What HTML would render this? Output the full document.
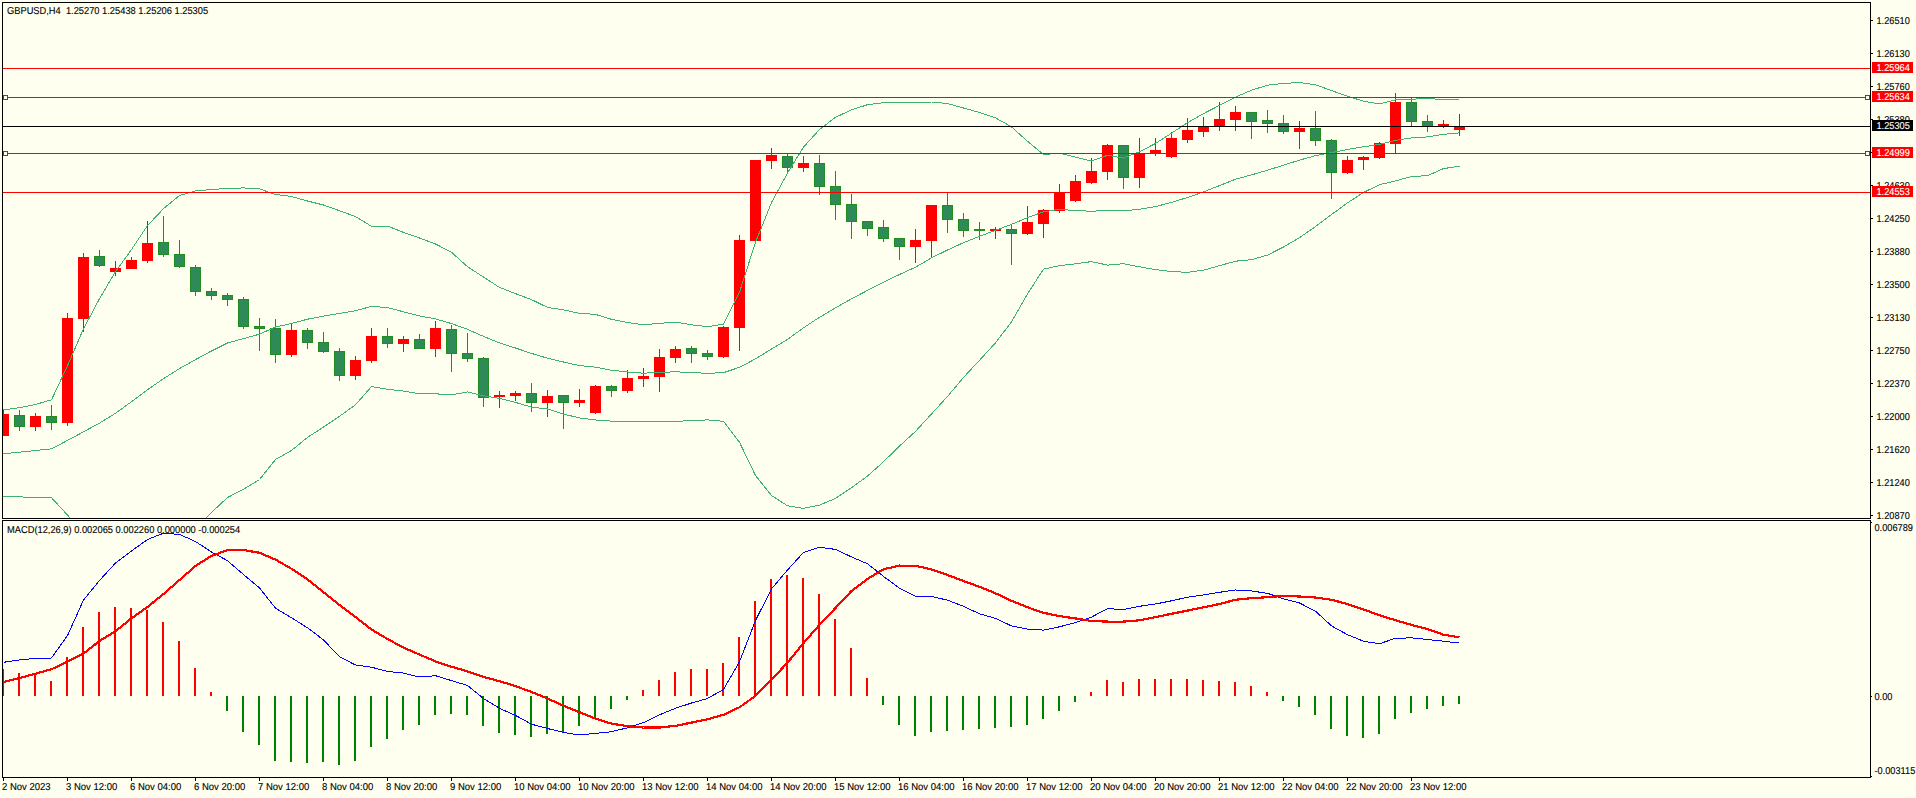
<!DOCTYPE html>
<html><head><meta charset="utf-8"><style>
html,body{margin:0;padding:0;background:#FFFFF0;width:1916px;height:798px;overflow:hidden}
svg{display:block}
text{font-family:"Liberation Sans", sans-serif;font-size:10px;text-rendering:geometricPrecision}
</style></head><body>
<svg width="1916" height="798" viewBox="0 0 1916 798" shape-rendering="crispEdges">
<rect x="0" y="0" width="1916" height="798" fill="#FFFFF0"/>

<defs><clipPath id="cm"><rect x="3" y="3" width="1867" height="515"/></clipPath><clipPath id="cd"><rect x="3" y="521" width="1867" height="256"/></clipPath></defs>
<g clip-path="url(#cm)">
<rect x="3" y="409" width="1" height="27" fill="#FF0000"/>
<rect x="-2" y="414" width="11" height="22" fill="#FF0000"/>
<rect x="19" y="410" width="1" height="21" fill="#228B22"/>
<rect x="14" y="415" width="11" height="12" fill="#228B22"/>
<rect x="15" y="416" width="9" height="10" fill="#2E8B57"/>
<rect x="35" y="413" width="1" height="18" fill="#FF0000"/>
<rect x="30" y="416" width="11" height="11" fill="#FF0000"/>
<rect x="51" y="405" width="1" height="25" fill="#228B22"/>
<rect x="46" y="416" width="11" height="7" fill="#228B22"/>
<rect x="47" y="417" width="9" height="5" fill="#2E8B57"/>
<rect x="67" y="313" width="1" height="113" fill="#FF0000"/>
<rect x="62" y="318" width="11" height="105" fill="#FF0000"/>
<rect x="83" y="253" width="1" height="79" fill="#FF0000"/>
<rect x="78" y="257" width="11" height="62" fill="#FF0000"/>
<rect x="99" y="250" width="1" height="17" fill="#228B22"/>
<rect x="94" y="256" width="11" height="10" fill="#228B22"/>
<rect x="95" y="257" width="9" height="8" fill="#2E8B57"/>
<rect x="115" y="261" width="1" height="15" fill="#FF0000"/>
<rect x="110" y="268" width="11" height="4" fill="#FF0000"/>
<rect x="131" y="257" width="1" height="12" fill="#FF0000"/>
<rect x="126" y="260" width="11" height="9" fill="#FF0000"/>
<rect x="147" y="221" width="1" height="42" fill="#FF0000"/>
<rect x="142" y="243" width="11" height="18" fill="#FF0000"/>
<rect x="163" y="216" width="1" height="41" fill="#228B22"/>
<rect x="158" y="242" width="11" height="13" fill="#228B22"/>
<rect x="159" y="243" width="9" height="11" fill="#2E8B57"/>
<rect x="179" y="240" width="1" height="28" fill="#228B22"/>
<rect x="174" y="254" width="11" height="13" fill="#228B22"/>
<rect x="175" y="255" width="9" height="11" fill="#2E8B57"/>
<rect x="195" y="265" width="1" height="31" fill="#228B22"/>
<rect x="190" y="267" width="11" height="25" fill="#228B22"/>
<rect x="191" y="268" width="9" height="23" fill="#2E8B57"/>
<rect x="211" y="288" width="1" height="12" fill="#228B22"/>
<rect x="206" y="291" width="11" height="5" fill="#228B22"/>
<rect x="207" y="292" width="9" height="3" fill="#2E8B57"/>
<rect x="227" y="293" width="1" height="13" fill="#228B22"/>
<rect x="222" y="295" width="11" height="5" fill="#228B22"/>
<rect x="223" y="296" width="9" height="3" fill="#2E8B57"/>
<rect x="243" y="297" width="1" height="32" fill="#228B22"/>
<rect x="238" y="299" width="11" height="28" fill="#228B22"/>
<rect x="239" y="300" width="9" height="26" fill="#2E8B57"/>
<rect x="259" y="318" width="1" height="33" fill="#228B22"/>
<rect x="254" y="326" width="11" height="3" fill="#228B22"/>
<rect x="255" y="327" width="9" height="1" fill="#2E8B57"/>
<rect x="275" y="319" width="1" height="44" fill="#228B22"/>
<rect x="270" y="328" width="11" height="27" fill="#228B22"/>
<rect x="271" y="329" width="9" height="25" fill="#2E8B57"/>
<rect x="291" y="324" width="1" height="33" fill="#FF0000"/>
<rect x="286" y="330" width="11" height="25" fill="#FF0000"/>
<rect x="307" y="328" width="1" height="21" fill="#228B22"/>
<rect x="302" y="330" width="11" height="13" fill="#228B22"/>
<rect x="303" y="331" width="9" height="11" fill="#2E8B57"/>
<rect x="323" y="332" width="1" height="21" fill="#228B22"/>
<rect x="318" y="342" width="11" height="10" fill="#228B22"/>
<rect x="319" y="343" width="9" height="8" fill="#2E8B57"/>
<rect x="339" y="348" width="1" height="33" fill="#228B22"/>
<rect x="334" y="351" width="11" height="25" fill="#228B22"/>
<rect x="335" y="352" width="9" height="23" fill="#2E8B57"/>
<rect x="355" y="356" width="1" height="24" fill="#FF0000"/>
<rect x="350" y="360" width="11" height="16" fill="#FF0000"/>
<rect x="371" y="328" width="1" height="35" fill="#FF0000"/>
<rect x="366" y="336" width="11" height="25" fill="#FF0000"/>
<rect x="387" y="328" width="1" height="20" fill="#228B22"/>
<rect x="382" y="336" width="11" height="8" fill="#228B22"/>
<rect x="383" y="337" width="9" height="6" fill="#2E8B57"/>
<rect x="403" y="336" width="1" height="16" fill="#FF0000"/>
<rect x="398" y="339" width="11" height="5" fill="#FF0000"/>
<rect x="419" y="334" width="1" height="15" fill="#228B22"/>
<rect x="414" y="339" width="11" height="10" fill="#228B22"/>
<rect x="415" y="340" width="9" height="8" fill="#2E8B57"/>
<rect x="435" y="321" width="1" height="36" fill="#FF0000"/>
<rect x="430" y="328" width="11" height="21" fill="#FF0000"/>
<rect x="451" y="325" width="1" height="47" fill="#228B22"/>
<rect x="446" y="329" width="11" height="25" fill="#228B22"/>
<rect x="447" y="330" width="9" height="23" fill="#2E8B57"/>
<rect x="467" y="333" width="1" height="29" fill="#228B22"/>
<rect x="462" y="353" width="11" height="6" fill="#228B22"/>
<rect x="463" y="354" width="9" height="4" fill="#2E8B57"/>
<rect x="483" y="357" width="1" height="50" fill="#228B22"/>
<rect x="478" y="358" width="11" height="40" fill="#228B22"/>
<rect x="479" y="359" width="9" height="38" fill="#2E8B57"/>
<rect x="499" y="391" width="1" height="17" fill="#FF0000"/>
<rect x="494" y="395" width="11" height="2" fill="#FF0000"/>
<rect x="515" y="391" width="1" height="10" fill="#FF0000"/>
<rect x="510" y="393" width="11" height="3" fill="#FF0000"/>
<rect x="531" y="383" width="1" height="29" fill="#228B22"/>
<rect x="526" y="393" width="11" height="10" fill="#228B22"/>
<rect x="527" y="394" width="9" height="8" fill="#2E8B57"/>
<rect x="547" y="390" width="1" height="27" fill="#FF0000"/>
<rect x="542" y="396" width="11" height="7" fill="#FF0000"/>
<rect x="563" y="395" width="1" height="34" fill="#228B22"/>
<rect x="558" y="395" width="11" height="8" fill="#228B22"/>
<rect x="559" y="396" width="9" height="6" fill="#2E8B57"/>
<rect x="579" y="389" width="1" height="18" fill="#FF0000"/>
<rect x="574" y="400" width="11" height="3" fill="#FF0000"/>
<rect x="595" y="385" width="1" height="29" fill="#FF0000"/>
<rect x="590" y="386" width="11" height="27" fill="#FF0000"/>
<rect x="611" y="385" width="1" height="12" fill="#228B22"/>
<rect x="606" y="386" width="11" height="5" fill="#228B22"/>
<rect x="607" y="387" width="9" height="3" fill="#2E8B57"/>
<rect x="627" y="370" width="1" height="23" fill="#FF0000"/>
<rect x="622" y="378" width="11" height="13" fill="#FF0000"/>
<rect x="643" y="368" width="1" height="19" fill="#FF0000"/>
<rect x="638" y="376" width="11" height="3" fill="#FF0000"/>
<rect x="659" y="349" width="1" height="43" fill="#FF0000"/>
<rect x="654" y="357" width="11" height="20" fill="#FF0000"/>
<rect x="675" y="346" width="1" height="17" fill="#FF0000"/>
<rect x="670" y="349" width="11" height="9" fill="#FF0000"/>
<rect x="691" y="346" width="1" height="17" fill="#228B22"/>
<rect x="686" y="348" width="11" height="6" fill="#228B22"/>
<rect x="687" y="349" width="9" height="4" fill="#2E8B57"/>
<rect x="707" y="350" width="1" height="10" fill="#228B22"/>
<rect x="702" y="353" width="11" height="4" fill="#228B22"/>
<rect x="703" y="354" width="9" height="2" fill="#2E8B57"/>
<rect x="723" y="326" width="1" height="32" fill="#FF0000"/>
<rect x="718" y="327" width="11" height="30" fill="#FF0000"/>
<rect x="739" y="235" width="1" height="116" fill="#FF0000"/>
<rect x="734" y="240" width="11" height="88" fill="#FF0000"/>
<rect x="755" y="160" width="1" height="81" fill="#FF0000"/>
<rect x="750" y="160" width="11" height="81" fill="#FF0000"/>
<rect x="771" y="148" width="1" height="21" fill="#FF0000"/>
<rect x="766" y="155" width="11" height="6" fill="#FF0000"/>
<rect x="787" y="153" width="1" height="19" fill="#228B22"/>
<rect x="782" y="156" width="11" height="12" fill="#228B22"/>
<rect x="783" y="157" width="9" height="10" fill="#2E8B57"/>
<rect x="803" y="156" width="1" height="16" fill="#FF0000"/>
<rect x="798" y="163" width="11" height="5" fill="#FF0000"/>
<rect x="819" y="155" width="1" height="40" fill="#228B22"/>
<rect x="814" y="163" width="11" height="24" fill="#228B22"/>
<rect x="815" y="164" width="9" height="22" fill="#2E8B57"/>
<rect x="835" y="171" width="1" height="49" fill="#228B22"/>
<rect x="830" y="186" width="11" height="19" fill="#228B22"/>
<rect x="831" y="187" width="9" height="17" fill="#2E8B57"/>
<rect x="851" y="194" width="1" height="45" fill="#228B22"/>
<rect x="846" y="204" width="11" height="18" fill="#228B22"/>
<rect x="847" y="205" width="9" height="16" fill="#2E8B57"/>
<rect x="867" y="221" width="1" height="15" fill="#228B22"/>
<rect x="862" y="221" width="11" height="8" fill="#228B22"/>
<rect x="863" y="222" width="9" height="6" fill="#2E8B57"/>
<rect x="883" y="220" width="1" height="22" fill="#228B22"/>
<rect x="878" y="227" width="11" height="12" fill="#228B22"/>
<rect x="879" y="228" width="9" height="10" fill="#2E8B57"/>
<rect x="899" y="238" width="1" height="22" fill="#228B22"/>
<rect x="894" y="238" width="11" height="9" fill="#228B22"/>
<rect x="895" y="239" width="9" height="7" fill="#2E8B57"/>
<rect x="915" y="229" width="1" height="34" fill="#FF0000"/>
<rect x="910" y="240" width="11" height="7" fill="#FF0000"/>
<rect x="931" y="205" width="1" height="52" fill="#FF0000"/>
<rect x="926" y="205" width="11" height="36" fill="#FF0000"/>
<rect x="947" y="193" width="1" height="40" fill="#228B22"/>
<rect x="942" y="205" width="11" height="15" fill="#228B22"/>
<rect x="943" y="206" width="9" height="13" fill="#2E8B57"/>
<rect x="963" y="213" width="1" height="24" fill="#228B22"/>
<rect x="958" y="219" width="11" height="12" fill="#228B22"/>
<rect x="959" y="220" width="9" height="10" fill="#2E8B57"/>
<rect x="979" y="222" width="1" height="18" fill="#228B22"/>
<rect x="974" y="229" width="11" height="2" fill="#228B22"/>
<rect x="995" y="227" width="1" height="12" fill="#FF0000"/>
<rect x="990" y="229" width="11" height="2" fill="#FF0000"/>
<rect x="1011" y="225" width="1" height="40" fill="#228B22"/>
<rect x="1006" y="229" width="11" height="5" fill="#228B22"/>
<rect x="1007" y="230" width="9" height="3" fill="#2E8B57"/>
<rect x="1027" y="206" width="1" height="29" fill="#FF0000"/>
<rect x="1022" y="222" width="11" height="12" fill="#FF0000"/>
<rect x="1043" y="209" width="1" height="29" fill="#FF0000"/>
<rect x="1038" y="210" width="11" height="14" fill="#FF0000"/>
<rect x="1059" y="184" width="1" height="29" fill="#FF0000"/>
<rect x="1054" y="193" width="11" height="18" fill="#FF0000"/>
<rect x="1075" y="175" width="1" height="27" fill="#FF0000"/>
<rect x="1070" y="181" width="11" height="20" fill="#FF0000"/>
<rect x="1091" y="158" width="1" height="26" fill="#FF0000"/>
<rect x="1086" y="171" width="11" height="12" fill="#FF0000"/>
<rect x="1107" y="144" width="1" height="36" fill="#FF0000"/>
<rect x="1102" y="145" width="11" height="27" fill="#FF0000"/>
<rect x="1123" y="145" width="1" height="44" fill="#228B22"/>
<rect x="1118" y="145" width="11" height="33" fill="#228B22"/>
<rect x="1119" y="146" width="9" height="31" fill="#2E8B57"/>
<rect x="1139" y="138" width="1" height="50" fill="#FF0000"/>
<rect x="1134" y="153" width="11" height="25" fill="#FF0000"/>
<rect x="1155" y="138" width="1" height="18" fill="#FF0000"/>
<rect x="1150" y="150" width="11" height="3" fill="#FF0000"/>
<rect x="1171" y="132" width="1" height="26" fill="#FF0000"/>
<rect x="1166" y="138" width="11" height="19" fill="#FF0000"/>
<rect x="1187" y="118" width="1" height="25" fill="#FF0000"/>
<rect x="1182" y="130" width="11" height="10" fill="#FF0000"/>
<rect x="1203" y="117" width="1" height="20" fill="#FF0000"/>
<rect x="1198" y="126" width="11" height="6" fill="#FF0000"/>
<rect x="1219" y="102" width="1" height="29" fill="#FF0000"/>
<rect x="1214" y="119" width="11" height="8" fill="#FF0000"/>
<rect x="1235" y="106" width="1" height="25" fill="#FF0000"/>
<rect x="1230" y="112" width="11" height="8" fill="#FF0000"/>
<rect x="1251" y="112" width="1" height="27" fill="#228B22"/>
<rect x="1246" y="112" width="11" height="10" fill="#228B22"/>
<rect x="1247" y="113" width="9" height="8" fill="#2E8B57"/>
<rect x="1267" y="110" width="1" height="23" fill="#228B22"/>
<rect x="1262" y="120" width="11" height="4" fill="#228B22"/>
<rect x="1263" y="121" width="9" height="2" fill="#2E8B57"/>
<rect x="1283" y="115" width="1" height="19" fill="#228B22"/>
<rect x="1278" y="123" width="11" height="9" fill="#228B22"/>
<rect x="1279" y="124" width="9" height="7" fill="#2E8B57"/>
<rect x="1299" y="121" width="1" height="28" fill="#FF0000"/>
<rect x="1294" y="128" width="11" height="4" fill="#FF0000"/>
<rect x="1315" y="111" width="1" height="35" fill="#228B22"/>
<rect x="1310" y="128" width="11" height="13" fill="#228B22"/>
<rect x="1311" y="129" width="9" height="11" fill="#2E8B57"/>
<rect x="1331" y="139" width="1" height="60" fill="#228B22"/>
<rect x="1326" y="140" width="11" height="33" fill="#228B22"/>
<rect x="1327" y="141" width="9" height="31" fill="#2E8B57"/>
<rect x="1347" y="156" width="1" height="18" fill="#FF0000"/>
<rect x="1342" y="160" width="11" height="13" fill="#FF0000"/>
<rect x="1363" y="156" width="1" height="14" fill="#FF0000"/>
<rect x="1358" y="157" width="11" height="3" fill="#FF0000"/>
<rect x="1379" y="142" width="1" height="17" fill="#FF0000"/>
<rect x="1374" y="143" width="11" height="15" fill="#FF0000"/>
<rect x="1395" y="93" width="1" height="61" fill="#FF0000"/>
<rect x="1390" y="102" width="11" height="42" fill="#FF0000"/>
<rect x="1411" y="98" width="1" height="29" fill="#228B22"/>
<rect x="1406" y="102" width="11" height="20" fill="#228B22"/>
<rect x="1407" y="103" width="9" height="18" fill="#2E8B57"/>
<rect x="1427" y="115" width="1" height="17" fill="#228B22"/>
<rect x="1422" y="121" width="11" height="6" fill="#228B22"/>
<rect x="1423" y="122" width="9" height="4" fill="#2E8B57"/>
<rect x="1443" y="120" width="1" height="8" fill="#FF0000"/>
<rect x="1438" y="124" width="11" height="3" fill="#FF0000"/>
<rect x="1459" y="114" width="1" height="22" fill="#FF0000"/>
<rect x="1454" y="126" width="11" height="4" fill="#FF0000"/>
<polyline points="3.5,409.9 19.5,407.7 35.5,404.5 51.5,399.8 67.5,365.8 83.5,328.8 99.5,298.7 115.5,271.7 131.5,249.6 147.5,225.6 163.5,208.6 179.5,195.5 195.5,190.9 211.5,189.5 227.5,188.5 243.5,187.9 259.5,188.9 275.5,194.5 291.5,196.5 307.5,201.0 323.5,205.0 339.5,210.7 355.5,216.6 371.5,226.3 387.5,226.0 403.5,232.4 419.5,238.0 435.5,244.0 451.5,252.2 467.5,266.7 483.5,277.1 499.5,287.4 515.5,293.6 531.5,299.6 547.5,307.4 563.5,309.9 579.5,313.3 595.5,314.4 611.5,319.3 627.5,322.6 643.5,324.7 659.5,323.4 675.5,322.1 691.5,324.8 707.5,326.7 723.5,324.1 739.5,292.3 755.5,242.3 771.5,202.5 787.5,173.1 803.5,147.1 819.5,129.5 835.5,117.3 851.5,109.9 867.5,104.7 883.5,102.7 899.5,102.9 915.5,103.0 931.5,102.0 947.5,103.5 963.5,108.0 979.5,112.4 995.5,117.8 1011.5,126.9 1027.5,141.3 1043.5,154.5 1059.5,153.2 1075.5,157.2 1091.5,161.0 1107.5,155.3 1123.5,158.1 1139.5,151.7 1155.5,143.5 1171.5,133.2 1187.5,122.7 1203.5,113.6 1219.5,105.4 1235.5,97.1 1251.5,90.2 1267.5,85.2 1283.5,83.4 1299.5,82.6 1315.5,84.7 1331.5,90.6 1347.5,96.2 1363.5,101.2 1379.5,104.0 1395.5,99.9 1411.5,99.3 1427.5,98.2 1443.5,100.0 1459.5,99.7" fill="none" stroke="#3CB371" stroke-width="1" shape-rendering="crispEdges" stroke-linejoin="round"/>
<polyline points="3.5,453.8 19.5,452.2 35.5,450.5 51.5,448.9 67.5,440.4 83.5,431.8 99.5,423.1 115.5,413.3 131.5,401.7 147.5,389.7 163.5,378.7 179.5,368.6 195.5,359.6 211.5,351.0 227.5,343.0 243.5,338.6 259.5,334.2 275.5,327.0 291.5,323.5 307.5,319.2 323.5,316.1 339.5,313.5 355.5,310.7 371.5,306.4 387.5,307.6 403.5,311.8 419.5,315.9 435.5,318.9 451.5,323.6 467.5,329.3 483.5,336.4 499.5,342.9 515.5,348.0 531.5,353.4 547.5,358.2 563.5,362.0 579.5,365.6 595.5,367.2 611.5,370.2 627.5,372.0 643.5,373.2 659.5,372.4 675.5,371.8 691.5,372.6 707.5,373.3 723.5,372.7 739.5,367.3 755.5,358.9 771.5,349.0 787.5,339.4 803.5,327.8 819.5,317.3 835.5,307.9 851.5,298.8 867.5,290.4 883.5,282.2 899.5,274.5 915.5,267.2 931.5,257.9 947.5,250.0 963.5,242.7 979.5,236.3 995.5,230.3 1011.5,224.3 1027.5,217.7 1043.5,211.8 1059.5,209.4 1075.5,210.5 1091.5,211.3 1107.5,210.2 1123.5,210.9 1139.5,209.2 1155.5,206.6 1171.5,202.4 1187.5,197.5 1203.5,191.9 1219.5,185.6 1235.5,179.2 1251.5,174.9 1267.5,170.2 1283.5,165.2 1299.5,160.1 1315.5,155.7 1331.5,152.6 1347.5,149.5 1363.5,146.8 1379.5,144.3 1395.5,140.4 1411.5,137.9 1427.5,136.9 1443.5,134.3 1459.5,132.9" fill="none" stroke="#3CB371" stroke-width="1" shape-rendering="crispEdges" stroke-linejoin="round"/>
<polyline points="3.5,496.6 19.5,496.9 35.5,497.4 51.5,497.7 67.5,515.0 83.5,534.8 99.5,547.5 115.5,554.9 131.5,553.8 147.5,553.8 163.5,548.8 179.5,541.7 195.5,528.3 211.5,512.5 227.5,497.5 243.5,489.3 259.5,479.5 275.5,459.5 291.5,450.5 307.5,437.4 323.5,427.1 339.5,416.3 355.5,404.8 371.5,386.5 387.5,389.3 403.5,391.1 419.5,393.8 435.5,393.8 451.5,394.9 467.5,391.9 483.5,395.8 499.5,398.4 515.5,402.4 531.5,407.1 547.5,409.0 563.5,414.1 579.5,417.9 595.5,420.0 611.5,421.1 627.5,421.4 643.5,421.8 659.5,421.3 675.5,421.5 691.5,420.5 707.5,419.9 723.5,421.3 739.5,442.3 755.5,475.5 771.5,495.5 787.5,505.8 803.5,508.4 819.5,505.1 835.5,498.4 851.5,487.7 867.5,476.1 883.5,461.7 899.5,446.1 915.5,431.4 931.5,413.9 947.5,396.5 963.5,377.4 979.5,360.3 995.5,342.9 1011.5,321.8 1027.5,294.0 1043.5,269.1 1059.5,265.7 1075.5,263.8 1091.5,261.6 1107.5,265.1 1123.5,263.7 1139.5,266.8 1155.5,269.6 1171.5,271.6 1187.5,272.3 1203.5,270.2 1219.5,265.7 1235.5,261.2 1251.5,259.7 1267.5,255.1 1283.5,247.0 1299.5,237.6 1315.5,226.6 1331.5,214.6 1347.5,202.8 1363.5,192.5 1379.5,184.7 1395.5,180.9 1411.5,176.5 1427.5,175.7 1443.5,168.6 1459.5,166.2" fill="none" stroke="#3CB371" stroke-width="1" shape-rendering="crispEdges" stroke-linejoin="round"/>
<rect x="3" y="68" width="1867" height="1" fill="#FF0000"/>
<rect x="3" y="97" width="1867" height="1" fill="#FF0000"/>
<rect x="3" y="126" width="1867" height="1" fill="#000000"/>
<rect x="3" y="153" width="1867" height="1" fill="#FF0000"/>
<rect x="3" y="192" width="1867" height="1" fill="#FF0000"/>
<rect x="3.5" y="95.5" width="4" height="4" fill="#FFFFF0" stroke="#FF0000" stroke-width="1"/>
<rect x="1865.5" y="95.5" width="4" height="4" fill="#FFFFF0" stroke="#FF0000" stroke-width="1"/>
<rect x="3.5" y="151.5" width="4" height="4" fill="#FFFFF0" stroke="#FF0000" stroke-width="1"/>
<rect x="1865.5" y="151.5" width="4" height="4" fill="#FFFFF0" stroke="#FF0000" stroke-width="1"/>
</g>
<text transform="translate(7,14) scale(0.93,1)" fill="#000" stroke="#000" stroke-width="0.12">GBPUSD,H4&#160; 1.25270 1.25438 1.25206 1.25305</text>
<rect x="2" y="2" width="1869" height="1" fill="#000"/>
<rect x="2" y="518" width="1869" height="1" fill="#000"/>
<rect x="2" y="2" width="1" height="517" fill="#000"/>
<rect x="1870" y="2" width="1" height="517" fill="#000"/>
<rect x="2" y="520" width="1869" height="1" fill="#000"/>
<rect x="2" y="777" width="1869" height="1" fill="#000"/>
<rect x="2" y="520" width="1" height="258" fill="#000"/>
<rect x="1870" y="520" width="1" height="258" fill="#000"/>
<rect x="1871" y="20" width="2" height="1" fill="#000"/>
<text transform="translate(1876.5,24) scale(0.92,1)" fill="#000" stroke="#000" stroke-width="0.12">1.26510</text>
<rect x="1871" y="53" width="2" height="1" fill="#000"/>
<text transform="translate(1876.5,57) scale(0.92,1)" fill="#000" stroke="#000" stroke-width="0.12">1.26130</text>
<rect x="1871" y="86" width="2" height="1" fill="#000"/>
<text transform="translate(1876.5,90) scale(0.92,1)" fill="#000" stroke="#000" stroke-width="0.12">1.25760</text>
<rect x="1871" y="119" width="2" height="1" fill="#000"/>
<text transform="translate(1876.5,123) scale(0.92,1)" fill="#000" stroke="#000" stroke-width="0.12">1.25380</text>
<rect x="1871" y="152" width="2" height="1" fill="#000"/>
<text transform="translate(1876.5,156) scale(0.92,1)" fill="#000" stroke="#000" stroke-width="0.12">1.25000</text>
<rect x="1871" y="185" width="2" height="1" fill="#000"/>
<text transform="translate(1876.5,189) scale(0.92,1)" fill="#000" stroke="#000" stroke-width="0.12">1.24630</text>
<rect x="1871" y="218" width="2" height="1" fill="#000"/>
<text transform="translate(1876.5,222) scale(0.92,1)" fill="#000" stroke="#000" stroke-width="0.12">1.24250</text>
<rect x="1871" y="251" width="2" height="1" fill="#000"/>
<text transform="translate(1876.5,255) scale(0.92,1)" fill="#000" stroke="#000" stroke-width="0.12">1.23880</text>
<rect x="1871" y="284" width="2" height="1" fill="#000"/>
<text transform="translate(1876.5,288) scale(0.92,1)" fill="#000" stroke="#000" stroke-width="0.12">1.23500</text>
<rect x="1871" y="317" width="2" height="1" fill="#000"/>
<text transform="translate(1876.5,321) scale(0.92,1)" fill="#000" stroke="#000" stroke-width="0.12">1.23130</text>
<rect x="1871" y="350" width="2" height="1" fill="#000"/>
<text transform="translate(1876.5,354) scale(0.92,1)" fill="#000" stroke="#000" stroke-width="0.12">1.22750</text>
<rect x="1871" y="383" width="2" height="1" fill="#000"/>
<text transform="translate(1876.5,387) scale(0.92,1)" fill="#000" stroke="#000" stroke-width="0.12">1.22370</text>
<rect x="1871" y="416" width="2" height="1" fill="#000"/>
<text transform="translate(1876.5,420) scale(0.92,1)" fill="#000" stroke="#000" stroke-width="0.12">1.22000</text>
<rect x="1871" y="449" width="2" height="1" fill="#000"/>
<text transform="translate(1876.5,453) scale(0.92,1)" fill="#000" stroke="#000" stroke-width="0.12">1.21620</text>
<rect x="1871" y="482" width="2" height="1" fill="#000"/>
<text transform="translate(1876.5,486) scale(0.92,1)" fill="#000" stroke="#000" stroke-width="0.12">1.21240</text>
<rect x="1871" y="515" width="2" height="1" fill="#000"/>
<text transform="translate(1876.5,519) scale(0.92,1)" fill="#000" stroke="#000" stroke-width="0.12">1.20870</text>
<rect x="1872" y="62" width="41" height="11" fill="#FF0000"/>
<text transform="translate(1876.5,71) scale(0.92,1)" fill="#FFF" stroke="#FFF" stroke-width="0.12">1.25964</text>
<rect x="1872" y="91" width="41" height="11" fill="#FF0000"/>
<text transform="translate(1876.5,100) scale(0.92,1)" fill="#FFF" stroke="#FFF" stroke-width="0.12">1.25634</text>
<rect x="1872" y="120" width="41" height="11" fill="#000000"/>
<text transform="translate(1876.5,129) scale(0.92,1)" fill="#FFF" stroke="#FFF" stroke-width="0.12">1.25305</text>
<rect x="1872" y="147" width="41" height="11" fill="#FF0000"/>
<text transform="translate(1876.5,156) scale(0.92,1)" fill="#FFF" stroke="#FFF" stroke-width="0.12">1.24999</text>
<rect x="1872" y="186" width="41" height="11" fill="#FF0000"/>
<text transform="translate(1876.5,195) scale(0.92,1)" fill="#FFF" stroke="#FFF" stroke-width="0.12">1.24553</text>
<g clip-path="url(#cd)">
<rect x="2" y="669" width="2" height="27" fill="#FF0000"/>
<rect x="18" y="673" width="2" height="23" fill="#FF0000"/>
<rect x="34" y="675" width="2" height="21" fill="#FF0000"/>
<rect x="50" y="681" width="2" height="15" fill="#FF0000"/>
<rect x="66" y="657" width="2" height="39" fill="#FF0000"/>
<rect x="82" y="627" width="2" height="69" fill="#FF0000"/>
<rect x="98" y="612" width="2" height="84" fill="#FF0000"/>
<rect x="114" y="607" width="2" height="89" fill="#FF0000"/>
<rect x="130" y="608" width="2" height="88" fill="#FF0000"/>
<rect x="146" y="610" width="2" height="86" fill="#FF0000"/>
<rect x="162" y="622" width="2" height="74" fill="#FF0000"/>
<rect x="178" y="641" width="2" height="55" fill="#FF0000"/>
<rect x="194" y="668" width="2" height="28" fill="#FF0000"/>
<rect x="210" y="692" width="2" height="4" fill="#FF0000"/>
<rect x="226" y="696" width="2" height="15" fill="#008000"/>
<rect x="242" y="696" width="2" height="36" fill="#008000"/>
<rect x="258" y="696" width="2" height="49" fill="#008000"/>
<rect x="274" y="696" width="2" height="65" fill="#008000"/>
<rect x="290" y="696" width="2" height="66" fill="#008000"/>
<rect x="306" y="696" width="2" height="67" fill="#008000"/>
<rect x="322" y="696" width="2" height="66" fill="#008000"/>
<rect x="338" y="696" width="2" height="69" fill="#008000"/>
<rect x="354" y="696" width="2" height="65" fill="#008000"/>
<rect x="370" y="696" width="2" height="51" fill="#008000"/>
<rect x="386" y="696" width="2" height="43" fill="#008000"/>
<rect x="402" y="696" width="2" height="34" fill="#008000"/>
<rect x="418" y="696" width="2" height="29" fill="#008000"/>
<rect x="434" y="696" width="2" height="19" fill="#008000"/>
<rect x="450" y="696" width="2" height="18" fill="#008000"/>
<rect x="466" y="696" width="2" height="19" fill="#008000"/>
<rect x="482" y="696" width="2" height="30" fill="#008000"/>
<rect x="498" y="696" width="2" height="37" fill="#008000"/>
<rect x="514" y="696" width="2" height="39" fill="#008000"/>
<rect x="530" y="696" width="2" height="41" fill="#008000"/>
<rect x="546" y="696" width="2" height="38" fill="#008000"/>
<rect x="562" y="696" width="2" height="36" fill="#008000"/>
<rect x="578" y="696" width="2" height="30" fill="#008000"/>
<rect x="594" y="696" width="2" height="22" fill="#008000"/>
<rect x="610" y="696" width="2" height="13" fill="#008000"/>
<rect x="626" y="696" width="2" height="4" fill="#008000"/>
<rect x="642" y="690" width="2" height="6" fill="#FF0000"/>
<rect x="658" y="680" width="2" height="16" fill="#FF0000"/>
<rect x="674" y="672" width="2" height="24" fill="#FF0000"/>
<rect x="690" y="669" width="2" height="27" fill="#FF0000"/>
<rect x="706" y="669" width="2" height="27" fill="#FF0000"/>
<rect x="722" y="663" width="2" height="33" fill="#FF0000"/>
<rect x="738" y="637" width="2" height="59" fill="#FF0000"/>
<rect x="754" y="601" width="2" height="95" fill="#FF0000"/>
<rect x="770" y="579" width="2" height="117" fill="#FF0000"/>
<rect x="786" y="575" width="2" height="121" fill="#FF0000"/>
<rect x="802" y="578" width="2" height="118" fill="#FF0000"/>
<rect x="818" y="594" width="2" height="102" fill="#FF0000"/>
<rect x="834" y="619" width="2" height="77" fill="#FF0000"/>
<rect x="850" y="648" width="2" height="48" fill="#FF0000"/>
<rect x="866" y="678" width="2" height="18" fill="#FF0000"/>
<rect x="882" y="696" width="2" height="9" fill="#008000"/>
<rect x="898" y="696" width="2" height="29" fill="#008000"/>
<rect x="914" y="696" width="2" height="40" fill="#008000"/>
<rect x="930" y="696" width="2" height="36" fill="#008000"/>
<rect x="946" y="696" width="2" height="35" fill="#008000"/>
<rect x="962" y="696" width="2" height="34" fill="#008000"/>
<rect x="978" y="696" width="2" height="33" fill="#008000"/>
<rect x="994" y="696" width="2" height="32" fill="#008000"/>
<rect x="1010" y="696" width="2" height="31" fill="#008000"/>
<rect x="1026" y="696" width="2" height="29" fill="#008000"/>
<rect x="1042" y="696" width="2" height="23" fill="#008000"/>
<rect x="1058" y="696" width="2" height="15" fill="#008000"/>
<rect x="1074" y="696" width="2" height="6" fill="#008000"/>
<rect x="1090" y="692" width="2" height="4" fill="#FF0000"/>
<rect x="1106" y="680" width="2" height="16" fill="#FF0000"/>
<rect x="1122" y="682" width="2" height="14" fill="#FF0000"/>
<rect x="1138" y="679" width="2" height="17" fill="#FF0000"/>
<rect x="1154" y="679" width="2" height="17" fill="#FF0000"/>
<rect x="1170" y="679" width="2" height="17" fill="#FF0000"/>
<rect x="1186" y="679" width="2" height="17" fill="#FF0000"/>
<rect x="1202" y="680" width="2" height="16" fill="#FF0000"/>
<rect x="1218" y="681" width="2" height="15" fill="#FF0000"/>
<rect x="1234" y="682" width="2" height="14" fill="#FF0000"/>
<rect x="1250" y="686" width="2" height="10" fill="#FF0000"/>
<rect x="1266" y="692" width="2" height="4" fill="#FF0000"/>
<rect x="1282" y="696" width="2" height="5" fill="#008000"/>
<rect x="1298" y="696" width="2" height="11" fill="#008000"/>
<rect x="1314" y="696" width="2" height="19" fill="#008000"/>
<rect x="1330" y="696" width="2" height="33" fill="#008000"/>
<rect x="1346" y="696" width="2" height="40" fill="#008000"/>
<rect x="1362" y="696" width="2" height="42" fill="#008000"/>
<rect x="1378" y="696" width="2" height="38" fill="#008000"/>
<rect x="1394" y="696" width="2" height="23" fill="#008000"/>
<rect x="1410" y="696" width="2" height="17" fill="#008000"/>
<rect x="1426" y="696" width="2" height="13" fill="#008000"/>
<rect x="1442" y="696" width="2" height="10" fill="#008000"/>
<rect x="1458" y="696" width="2" height="8" fill="#008000"/>
<polyline points="3.5,662.3 19.5,660.0 35.5,658.4 51.5,658.0 67.5,635.6 83.5,600.0 99.5,580.5 115.5,563.0 131.5,551.0 147.5,539.5 163.5,533.2 179.5,534.4 195.5,541.5 211.5,552.0 227.5,560.7 243.5,574.5 259.5,587.9 275.5,608.2 291.5,617.7 307.5,627.8 323.5,639.9 339.5,656.8 355.5,665.0 371.5,667.2 387.5,671.5 403.5,673.1 419.5,677.0 435.5,675.7 451.5,680.6 467.5,685.5 483.5,698.5 499.5,708.3 515.5,715.4 531.5,724.2 547.5,728.5 563.5,732.4 579.5,735.0 595.5,733.4 611.5,731.7 627.5,727.8 643.5,722.6 659.5,714.8 675.5,708.3 691.5,703.0 707.5,698.5 723.5,689.4 739.5,661.7 755.5,620.5 771.5,588.9 787.5,570.0 803.5,552.5 819.5,547.3 835.5,549.4 851.5,556.9 867.5,563.8 883.5,576.4 899.5,588.3 915.5,596.4 931.5,596.4 947.5,600.2 963.5,606.3 979.5,613.8 995.5,618.4 1011.5,625.9 1027.5,629.1 1043.5,630.1 1059.5,626.8 1075.5,622.6 1091.5,617.1 1107.5,608.6 1123.5,609.6 1139.5,606.3 1155.5,604.0 1171.5,600.8 1187.5,597.2 1203.5,595.0 1219.5,592.3 1235.5,590.0 1251.5,591.0 1267.5,593.3 1283.5,598.8 1299.5,603.0 1315.5,611.2 1331.5,625.9 1347.5,634.7 1363.5,641.2 1379.5,643.8 1395.5,638.2 1411.5,637.9 1427.5,639.5 1443.5,641.2 1459.5,643.1" fill="none" stroke="#0000FF" stroke-width="1" shape-rendering="crispEdges" stroke-linejoin="round"/>
<polyline points="3.5,681.9 19.5,678.0 35.5,673.7 51.5,669.2 67.5,661.7 83.5,653.5 99.5,641.0 115.5,631.2 131.5,618.3 147.5,607.0 163.5,594.0 179.5,580.0 195.5,566.0 211.5,555.8 227.5,550.2 243.5,550.0 259.5,552.8 275.5,559.6 291.5,568.8 307.5,579.4 323.5,592.2 339.5,605.0 355.5,617.1 371.5,629.5 387.5,639.0 403.5,647.6 419.5,654.6 435.5,661.4 451.5,666.7 467.5,671.4 483.5,677.0 499.5,681.2 515.5,686.1 531.5,692.0 547.5,698.5 563.5,705.7 579.5,712.2 595.5,718.7 611.5,723.6 627.5,726.2 643.5,727.5 659.5,727.5 675.5,725.9 691.5,722.6 707.5,719.3 723.5,714.8 739.5,707.3 755.5,695.9 771.5,679.6 787.5,662.7 803.5,643.1 819.5,624.9 835.5,608.0 851.5,591.0 867.5,578.9 883.5,569.3 899.5,565.6 915.5,565.7 931.5,569.5 947.5,575.0 963.5,581.0 979.5,586.8 995.5,593.3 1011.5,600.8 1027.5,607.3 1043.5,612.8 1059.5,616.1 1075.5,618.4 1091.5,621.0 1107.5,621.6 1123.5,621.6 1139.5,620.3 1155.5,617.1 1171.5,613.8 1187.5,610.6 1203.5,607.3 1219.5,604.0 1235.5,599.8 1251.5,598.2 1267.5,597.2 1283.5,595.9 1299.5,596.5 1315.5,597.5 1331.5,599.8 1347.5,604.0 1363.5,609.6 1379.5,615.1 1395.5,620.3 1411.5,624.9 1427.5,629.1 1443.5,634.7 1459.5,637.3" fill="none" stroke="#FF0000" stroke-width="2.2" shape-rendering="crispEdges" stroke-linejoin="round"/>
</g>
<text transform="translate(7,533) scale(0.93,1)" fill="#000" stroke="#000" stroke-width="0.12">MACD(12,26,9) 0.002065 0.002260 0.000000 -0.000254</text>
<rect x="1871" y="522" width="1" height="1" fill="#000"/>
<text transform="translate(1874.5,531) scale(0.92,1)" fill="#000" stroke="#000" stroke-width="0.12">0.006789</text>
<rect x="1871" y="696" width="1" height="1" fill="#000"/>
<text transform="translate(1874.5,700) scale(0.92,1)" fill="#000" stroke="#000" stroke-width="0.12">0.00</text>
<rect x="1871" y="776" width="1" height="1" fill="#000"/>
<text transform="translate(1874.5,774) scale(0.92,1)" fill="#000" stroke="#000" stroke-width="0.12">-0.003115</text>
<rect x="3" y="778" width="1" height="3" fill="#000"/>
<text transform="translate(2,790) scale(0.95,1)" fill="#000" stroke="#000" stroke-width="0.12">2 Nov 2023</text>
<rect x="67" y="778" width="1" height="3" fill="#000"/>
<text transform="translate(66,790) scale(0.95,1)" fill="#000" stroke="#000" stroke-width="0.12">3 Nov 12:00</text>
<rect x="131" y="778" width="1" height="3" fill="#000"/>
<text transform="translate(130,790) scale(0.95,1)" fill="#000" stroke="#000" stroke-width="0.12">6 Nov 04:00</text>
<rect x="195" y="778" width="1" height="3" fill="#000"/>
<text transform="translate(194,790) scale(0.95,1)" fill="#000" stroke="#000" stroke-width="0.12">6 Nov 20:00</text>
<rect x="259" y="778" width="1" height="3" fill="#000"/>
<text transform="translate(258,790) scale(0.95,1)" fill="#000" stroke="#000" stroke-width="0.12">7 Nov 12:00</text>
<rect x="323" y="778" width="1" height="3" fill="#000"/>
<text transform="translate(322,790) scale(0.95,1)" fill="#000" stroke="#000" stroke-width="0.12">8 Nov 04:00</text>
<rect x="387" y="778" width="1" height="3" fill="#000"/>
<text transform="translate(386,790) scale(0.95,1)" fill="#000" stroke="#000" stroke-width="0.12">8 Nov 20:00</text>
<rect x="451" y="778" width="1" height="3" fill="#000"/>
<text transform="translate(450,790) scale(0.95,1)" fill="#000" stroke="#000" stroke-width="0.12">9 Nov 12:00</text>
<rect x="515" y="778" width="1" height="3" fill="#000"/>
<text transform="translate(514,790) scale(0.95,1)" fill="#000" stroke="#000" stroke-width="0.12">10 Nov 04:00</text>
<rect x="579" y="778" width="1" height="3" fill="#000"/>
<text transform="translate(578,790) scale(0.95,1)" fill="#000" stroke="#000" stroke-width="0.12">10 Nov 20:00</text>
<rect x="643" y="778" width="1" height="3" fill="#000"/>
<text transform="translate(642,790) scale(0.95,1)" fill="#000" stroke="#000" stroke-width="0.12">13 Nov 12:00</text>
<rect x="707" y="778" width="1" height="3" fill="#000"/>
<text transform="translate(706,790) scale(0.95,1)" fill="#000" stroke="#000" stroke-width="0.12">14 Nov 04:00</text>
<rect x="771" y="778" width="1" height="3" fill="#000"/>
<text transform="translate(770,790) scale(0.95,1)" fill="#000" stroke="#000" stroke-width="0.12">14 Nov 20:00</text>
<rect x="835" y="778" width="1" height="3" fill="#000"/>
<text transform="translate(834,790) scale(0.95,1)" fill="#000" stroke="#000" stroke-width="0.12">15 Nov 12:00</text>
<rect x="899" y="778" width="1" height="3" fill="#000"/>
<text transform="translate(898,790) scale(0.95,1)" fill="#000" stroke="#000" stroke-width="0.12">16 Nov 04:00</text>
<rect x="963" y="778" width="1" height="3" fill="#000"/>
<text transform="translate(962,790) scale(0.95,1)" fill="#000" stroke="#000" stroke-width="0.12">16 Nov 20:00</text>
<rect x="1027" y="778" width="1" height="3" fill="#000"/>
<text transform="translate(1026,790) scale(0.95,1)" fill="#000" stroke="#000" stroke-width="0.12">17 Nov 12:00</text>
<rect x="1091" y="778" width="1" height="3" fill="#000"/>
<text transform="translate(1090,790) scale(0.95,1)" fill="#000" stroke="#000" stroke-width="0.12">20 Nov 04:00</text>
<rect x="1155" y="778" width="1" height="3" fill="#000"/>
<text transform="translate(1154,790) scale(0.95,1)" fill="#000" stroke="#000" stroke-width="0.12">20 Nov 20:00</text>
<rect x="1219" y="778" width="1" height="3" fill="#000"/>
<text transform="translate(1218,790) scale(0.95,1)" fill="#000" stroke="#000" stroke-width="0.12">21 Nov 12:00</text>
<rect x="1283" y="778" width="1" height="3" fill="#000"/>
<text transform="translate(1282,790) scale(0.95,1)" fill="#000" stroke="#000" stroke-width="0.12">22 Nov 04:00</text>
<rect x="1347" y="778" width="1" height="3" fill="#000"/>
<text transform="translate(1346,790) scale(0.95,1)" fill="#000" stroke="#000" stroke-width="0.12">22 Nov 20:00</text>
<rect x="1411" y="778" width="1" height="3" fill="#000"/>
<text transform="translate(1410,790) scale(0.95,1)" fill="#000" stroke="#000" stroke-width="0.12">23 Nov 12:00</text>
</svg></body></html>
